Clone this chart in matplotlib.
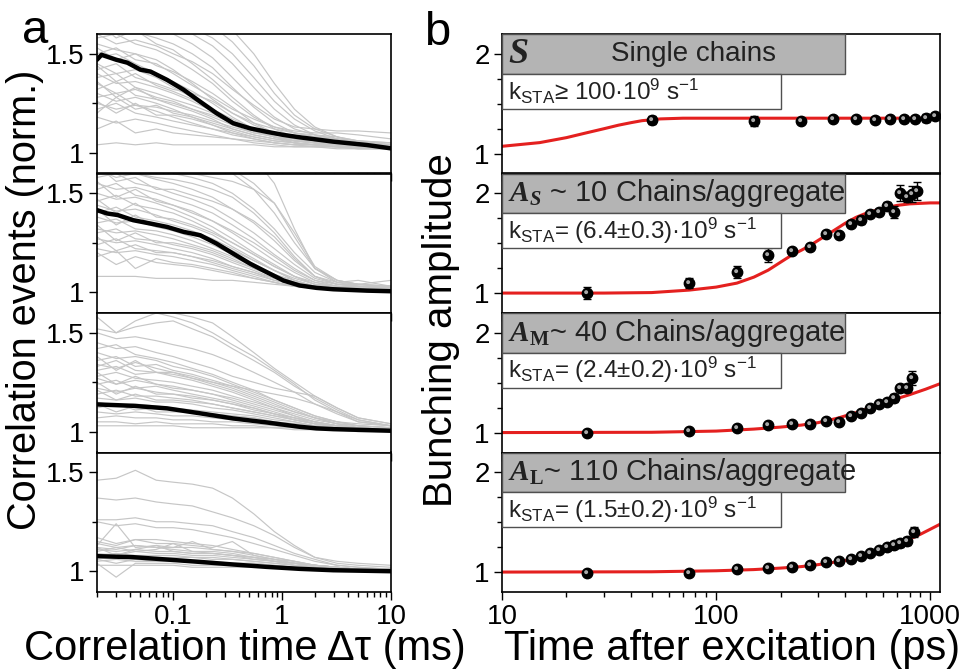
import matplotlib
matplotlib.use('Agg')
import matplotlib.pyplot as plt
from matplotlib.patches import Rectangle
from matplotlib.markers import MarkerStyle
from matplotlib.transforms import Affine2D
from matplotlib.ticker import FixedLocator, NullFormatter, FixedFormatter

plt.rcParams['font.family'] = ['Liberation Sans', 'DejaVu Sans']
plt.rcParams['mathtext.fontset'] = 'custom'
plt.rcParams['mathtext.rm'] = 'Liberation Sans'
plt.rcParams['mathtext.it'] = 'Liberation Sans:italic'
plt.rcParams['mathtext.bf'] = 'Liberation Serif:italic:bold'
plt.rcParams['mathtext.sf'] = 'Liberation Serif:bold'

# ---------------- panel a data ----------------
tau = [0.02, 0.03, 0.045, 0.07, 0.1, 0.15, 0.23, 0.35, 0.55, 0.85, 1.3, 2, 3.2, 5, 10]

traces_1 = [
    [1.70,1.70,1.70,1.70,1.70,1.70,1.68,1.62,1.50,1.35,1.22,1.13,1.08,1.05,1.03],
    [1.75,1.72,1.70,1.68,1.66,1.63,1.58,1.50,1.38,1.26,1.17,1.11,1.07,1.05,1.03],
    [1.65,1.66,1.63,1.62,1.60,1.55,1.48,1.38,1.27,1.18,1.12,1.09,1.07,1.05,1.04],
    [1.62,1.60,1.61,1.58,1.55,1.50,1.43,1.33,1.23,1.15,1.10,1.08,1.06,1.05,1.03],
    [1.58,1.60,1.55,1.52,1.48,1.42,1.35,1.26,1.18,1.13,1.10,1.09,1.08,1.06,1.04],
    [1.55,1.52,1.50,1.47,1.42,1.35,1.27,1.20,1.14,1.10,1.08,1.06,1.05,1.04,1.03],
    [1.50,1.53,1.47,1.45,1.40,1.34,1.28,1.22,1.17,1.13,1.11,1.10,1.10,1.09,1.07],
    [1.45,1.40,1.42,1.38,1.33,1.28,1.22,1.16,1.11,1.08,1.06,1.05,1.04,1.04,1.03],
    [1.42,1.45,1.38,1.35,1.32,1.30,1.26,1.20,1.15,1.12,1.10,1.08,1.07,1.05,1.04],
    [1.40,1.35,1.36,1.33,1.30,1.26,1.21,1.16,1.12,1.09,1.07,1.06,1.05,1.04,1.03],
    [1.38,1.40,1.33,1.30,1.27,1.24,1.20,1.15,1.11,1.08,1.06,1.05,1.04,1.03,1.02],
    [1.35,1.30,1.32,1.28,1.26,1.22,1.18,1.14,1.10,1.08,1.07,1.06,1.06,1.05,1.05],
    [1.32,1.36,1.29,1.27,1.24,1.21,1.17,1.12,1.09,1.07,1.05,1.04,1.04,1.03,1.02],
    [1.30,1.26,1.28,1.25,1.22,1.18,1.14,1.10,1.07,1.05,1.04,1.04,1.03,1.03,1.02],
    [1.28,1.30,1.24,1.23,1.21,1.19,1.16,1.13,1.10,1.09,1.08,1.08,1.07,1.06,1.05],
    [1.25,1.22,1.24,1.21,1.18,1.15,1.12,1.09,1.07,1.05,1.04,1.03,1.03,1.02,1.02],
    [1.22,1.25,1.20,1.18,1.16,1.14,1.12,1.10,1.08,1.06,1.05,1.04,1.04,1.03,1.02],
    [1.18,1.15,1.17,1.15,1.13,1.11,1.09,1.07,1.05,1.04,1.03,1.03,1.02,1.02,1.02],
    [1.12,1.16,1.10,1.12,1.10,1.09,1.08,1.07,1.06,1.05,1.04,1.04,1.03,1.03,1.02],
    [1.04,1.05,1.04,1.05,1.04,1.04,1.04,1.04,1.04,1.03,1.03,1.03,1.03,1.03,1.03],
    [1.60,1.55,1.57,1.54,1.50,1.46,1.40,1.32,1.24,1.17,1.13,1.12,1.11,1.11,1.10],
    [1.48,1.50,1.45,1.40,1.36,1.31,1.25,1.18,1.12,1.08,1.05,1.04,1.03,1.02,1.02],
    [1.66,1.58,1.62,1.55,1.52,1.45,1.37,1.28,1.19,1.12,1.08,1.06,1.05,1.04,1.03],
    [1.53,1.47,1.50,1.44,1.41,1.36,1.30,1.23,1.15,1.10,1.07,1.05,1.04,1.03,1.02],
    [1.44,1.36,1.40,1.34,1.31,1.27,1.22,1.17,1.12,1.08,1.06,1.05,1.04,1.03,1.03],
    [1.36,1.28,1.33,1.27,1.25,1.22,1.19,1.15,1.11,1.08,1.06,1.05,1.05,1.04,1.03],
    [1.26,1.20,1.25,1.19,1.19,1.17,1.14,1.11,1.08,1.06,1.05,1.04,1.03,1.03,1.02],
    [1.70,1.70,1.70,1.68,1.65,1.60,1.54,1.45,1.33,1.22,1.14,1.09,1.06,1.05,1.04],
    [1.20,1.28,1.22,1.24,1.20,1.18,1.15,1.12,1.09,1.07,1.06,1.05,1.04,1.03,1.02],
    [1.70,1.70,1.70,1.70,1.70,1.69,1.64,1.56,1.44,1.30,1.19,1.12,1.08,1.06,1.05],
]
traces_2 = [
    [1.70,1.70,1.70,1.70,1.70,1.70,1.70,1.70,1.68,1.55,1.32,1.12,1.05,1.03,1.02],
    [1.70,1.70,1.70,1.70,1.68,1.66,1.64,1.60,1.52,1.40,1.25,1.12,1.06,1.04,1.03],
    [1.65,1.66,1.64,1.62,1.60,1.58,1.55,1.50,1.42,1.32,1.20,1.10,1.05,1.04,1.03],
    [1.62,1.58,1.60,1.57,1.55,1.52,1.48,1.42,1.35,1.26,1.16,1.08,1.04,1.03,1.02],
    [1.58,1.60,1.55,1.53,1.50,1.47,1.43,1.37,1.30,1.22,1.14,1.07,1.04,1.03,1.02],
    [1.55,1.52,1.53,1.50,1.47,1.44,1.40,1.34,1.27,1.19,1.12,1.06,1.04,1.04,1.06],
    [1.52,1.55,1.49,1.47,1.44,1.41,1.36,1.30,1.23,1.16,1.10,1.05,1.03,1.02,1.02],
    [1.50,1.47,1.48,1.45,1.42,1.38,1.33,1.27,1.20,1.14,1.08,1.04,1.03,1.02,1.01],
    [1.46,1.49,1.44,1.42,1.40,1.36,1.31,1.25,1.19,1.13,1.08,1.05,1.03,1.03,1.02],
    [1.44,1.41,1.42,1.39,1.36,1.33,1.29,1.23,1.17,1.11,1.06,1.03,1.02,1.02,1.01],
    [1.40,1.43,1.38,1.36,1.34,1.31,1.27,1.22,1.16,1.11,1.07,1.04,1.03,1.02,1.01],
    [1.38,1.35,1.36,1.33,1.31,1.28,1.24,1.19,1.14,1.09,1.05,1.03,1.02,1.02,1.01],
    [1.35,1.37,1.32,1.31,1.29,1.26,1.22,1.18,1.13,1.09,1.06,1.03,1.02,1.01,1.01],
    [1.32,1.30,1.31,1.29,1.27,1.24,1.21,1.17,1.12,1.08,1.05,1.03,1.02,1.02,1.01],
    [1.30,1.32,1.27,1.26,1.24,1.22,1.19,1.15,1.11,1.07,1.04,1.02,1.02,1.01,1.01],
    [1.27,1.25,1.26,1.24,1.22,1.20,1.17,1.13,1.10,1.06,1.04,1.02,1.01,1.01,1.01],
    [1.24,1.27,1.22,1.21,1.20,1.18,1.15,1.12,1.09,1.06,1.04,1.02,1.02,1.01,1.01],
    [1.22,1.20,1.21,1.19,1.18,1.16,1.14,1.11,1.08,1.05,1.03,1.02,1.01,1.01,1.01],
    [1.18,1.21,1.12,1.17,1.15,1.14,1.12,1.10,1.07,1.05,1.03,1.02,1.01,1.01,1.01],
    [1.08,1.08,1.08,1.07,1.07,1.07,1.06,1.06,1.05,1.04,1.03,1.02,1.01,1.01,1.01],
    [1.60,1.62,1.60,1.58,1.57,1.55,1.52,1.48,1.40,1.30,1.18,1.08,1.05,1.06,1.03],
    [1.68,1.66,1.65,1.63,1.62,1.60,1.58,1.56,1.52,1.45,1.30,1.13,1.06,1.04,1.02],
    [1.56,1.48,1.52,1.46,1.44,1.40,1.36,1.31,1.25,1.18,1.11,1.06,1.03,1.02,1.02],
    [1.47,1.40,1.45,1.38,1.37,1.34,1.30,1.25,1.19,1.13,1.08,1.04,1.02,1.02,1.01],
    [1.42,1.34,1.39,1.33,1.32,1.29,1.26,1.21,1.16,1.11,1.06,1.03,1.02,1.01,1.01],
    [1.34,1.26,1.30,1.25,1.25,1.23,1.20,1.16,1.12,1.08,1.05,1.03,1.02,1.01,1.01],
    [1.28,1.21,1.24,1.20,1.20,1.18,1.16,1.13,1.10,1.07,1.04,1.02,1.01,1.01,1.01],
    [1.70,1.70,1.70,1.70,1.70,1.70,1.68,1.62,1.55,1.45,1.28,1.12,1.06,1.04,1.03],
    [1.64,1.56,1.58,1.52,1.52,1.49,1.46,1.42,1.36,1.28,1.17,1.08,1.04,1.03,1.03],
    [1.20,1.14,1.18,1.15,1.14,1.13,1.11,1.09,1.07,1.05,1.03,1.02,1.01,1.01,1.01],
]
traces_3 = [
    [1.70,1.68,1.66,1.62,1.60,1.58,1.55,1.48,1.40,1.32,1.25,1.18,1.12,1.07,1.04],
    [1.52,1.50,1.53,1.55,1.56,1.52,1.48,1.42,1.36,1.30,1.23,1.17,1.11,1.06,1.03],
    [1.45,1.42,1.43,1.40,1.38,1.35,1.32,1.28,1.25,1.22,1.20,1.18,1.12,1.07,1.04],
    [1.42,1.44,1.39,1.37,1.35,1.32,1.29,1.25,1.21,1.16,1.12,1.08,1.05,1.03,1.02],
    [1.40,1.37,1.38,1.36,1.33,1.31,1.28,1.24,1.20,1.16,1.12,1.08,1.05,1.04,1.03],
    [1.36,1.38,1.33,1.34,1.31,1.29,1.26,1.23,1.19,1.15,1.11,1.07,1.05,1.03,1.02],
    [1.34,1.32,1.35,1.32,1.30,1.27,1.24,1.21,1.17,1.13,1.10,1.07,1.04,1.03,1.02],
    [1.31,1.33,1.29,1.30,1.28,1.26,1.23,1.20,1.16,1.12,1.08,1.05,1.03,1.02,1.01],
    [1.28,1.30,1.27,1.26,1.25,1.23,1.21,1.18,1.15,1.12,1.09,1.06,1.04,1.02,1.01],
    [1.27,1.24,1.26,1.24,1.22,1.21,1.19,1.16,1.13,1.10,1.07,1.05,1.03,1.02,1.01],
    [1.24,1.26,1.22,1.23,1.21,1.19,1.17,1.15,1.12,1.09,1.07,1.04,1.03,1.02,1.01],
    [1.22,1.20,1.22,1.20,1.19,1.17,1.16,1.14,1.11,1.09,1.06,1.04,1.03,1.02,1.01],
    [1.19,1.21,1.18,1.18,1.17,1.16,1.14,1.12,1.10,1.08,1.06,1.04,1.02,1.02,1.01],
    [1.17,1.16,1.17,1.15,1.15,1.14,1.12,1.11,1.09,1.07,1.05,1.03,1.02,1.01,1.01],
    [1.12,1.14,1.11,1.12,1.11,1.10,1.09,1.08,1.07,1.05,1.04,1.03,1.02,1.01,1.01],
    [1.10,1.09,1.10,1.09,1.08,1.08,1.07,1.06,1.05,1.04,1.03,1.02,1.01,1.01,1.01],
    [1.07,1.08,1.07,1.07,1.06,1.06,1.05,1.05,1.04,1.03,1.02,1.02,1.01,1.01,1.00],
    [1.05,1.05,1.04,1.05,1.04,1.04,1.04,1.03,1.03,1.02,1.02,1.01,1.01,1.01,1.00],
    [1.03,1.03,1.03,1.03,1.03,1.02,1.02,1.02,1.02,1.02,1.01,1.01,1.01,1.00,1.00],
    [1.15,1.13,1.14,1.13,1.12,1.11,1.10,1.09,1.08,1.06,1.05,1.03,1.02,1.01,1.01],
    [1.50,1.47,1.48,1.46,1.44,1.42,1.39,1.35,1.30,1.25,1.20,1.14,1.09,1.05,1.03],
    [1.58,1.50,1.56,1.60,1.58,1.55,1.50,1.44,1.38,1.31,1.24,1.16,1.10,1.05,1.03],
    [1.38,1.31,1.36,1.30,1.30,1.28,1.25,1.22,1.18,1.14,1.10,1.07,1.04,1.03,1.02],
    [1.30,1.24,1.28,1.24,1.23,1.21,1.19,1.17,1.14,1.11,1.08,1.05,1.03,1.02,1.01],
    [1.25,1.19,1.23,1.19,1.19,1.18,1.16,1.14,1.12,1.09,1.07,1.05,1.03,1.02,1.01],
    [1.21,1.16,1.19,1.16,1.16,1.15,1.14,1.12,1.10,1.08,1.06,1.04,1.03,1.02,1.01],
    [1.14,1.10,1.13,1.10,1.10,1.10,1.09,1.08,1.07,1.05,1.04,1.03,1.02,1.01,1.01],
    [1.33,1.36,1.31,1.30,1.29,1.27,1.25,1.23,1.21,1.19,1.17,1.14,1.10,1.06,1.03],
]
traces_4 = [
    [1.46,1.47,1.51,1.46,1.45,1.44,1.42,1.37,1.29,1.20,1.13,1.07,1.05,1.04,1.03],
    [1.37,1.36,1.37,1.35,1.34,1.33,1.30,1.27,1.23,1.18,1.12,1.07,1.04,1.03,1.02],
    [1.26,1.26,1.27,1.25,1.25,1.24,1.23,1.20,1.17,1.13,1.09,1.06,1.03,1.02,1.01],
    [1.25,1.23,1.24,1.22,1.22,1.21,1.19,1.17,1.14,1.11,1.08,1.05,1.03,1.02,1.01],
    [1.15,1.13,1.16,1.14,1.14,1.13,1.12,1.15,1.08,1.06,1.04,1.03,1.02,1.01,1.01],
    [1.13,1.24,1.12,1.13,1.12,1.12,1.11,1.10,1.08,1.06,1.04,1.03,1.02,1.01,1.01],
    [1.12,1.11,1.13,1.12,1.11,1.10,1.10,1.09,1.07,1.05,1.04,1.03,1.02,1.01,1.01],
    [1.10,1.12,1.10,1.11,1.14,1.10,1.09,1.08,1.06,1.05,1.04,1.02,1.01,1.01,1.00],
    [1.09,1.08,1.10,1.09,1.09,1.08,1.08,1.07,1.06,1.05,1.03,1.02,1.01,1.01,1.00],
    [1.07,1.08,1.06,1.07,1.07,1.07,1.06,1.06,1.05,1.04,1.03,1.02,1.01,1.01,1.00],
    [1.05,1.06,1.05,1.05,1.05,1.05,1.05,1.04,1.04,1.03,1.02,1.02,1.01,1.00,1.00],
    [1.04,0.97,1.04,1.04,1.04,1.03,1.03,1.03,1.03,1.02,1.02,1.01,1.01,1.00,1.00],
    [1.03,1.03,1.03,1.03,1.03,1.02,1.02,1.02,1.02,1.02,1.01,1.01,1.01,1.00,1.00],
    [1.11,1.10,1.11,1.10,1.10,1.09,1.09,1.08,1.07,1.06,1.05,1.03,1.02,1.01,1.01],
    [1.14,1.12,1.13,1.12,1.12,1.15,1.11,1.10,1.09,1.07,1.05,1.03,1.02,1.01,1.01],
    [1.08,1.09,1.08,1.08,1.08,1.07,1.07,1.06,1.05,1.04,1.03,1.02,1.01,1.01,1.00],
    [1.12,1.08,1.11,1.13,1.10,1.09,1.09,1.08,1.07,1.05,1.04,1.03,1.02,1.01,1.01],
    [1.06,1.04,1.06,1.05,1.05,1.05,1.04,1.04,1.04,1.03,1.02,1.02,1.01,1.00,1.00],
    [1.17,1.14,1.16,1.16,1.15,1.14,1.13,1.11,1.09,1.07,1.05,1.03,1.02,1.01,1.01],
]

mean_x_1 = [0.02, 0.022, 0.03, 0.038, 0.05, 0.062, 0.088, 0.125, 0.177, 0.25, 0.356, 0.51, 0.72, 1.03, 1.45, 2.95, 6.0, 10]
mean_y_1 = [1.47, 1.495, 1.47, 1.455, 1.42, 1.41, 1.368, 1.318, 1.258, 1.20, 1.149, 1.123, 1.106, 1.09, 1.078, 1.056, 1.039, 1.022]
mean_x_2 = [0.02, 0.0248, 0.031, 0.043, 0.062, 0.088, 0.125, 0.177, 0.25, 0.356, 0.51, 0.72, 1.03, 1.45, 2.07, 2.95, 6.0, 10]
mean_y_2 = [1.415, 1.398, 1.39, 1.364, 1.347, 1.33, 1.305, 1.288, 1.246, 1.195, 1.144, 1.102, 1.059, 1.034, 1.022, 1.015, 1.008, 1.005]
mean_x_3 = [0.02, 0.043, 0.088, 0.177, 0.356, 0.72, 1.45, 2.07, 2.95, 10]
mean_y_3 = [1.138, 1.131, 1.118, 1.093, 1.067, 1.047, 1.025, 1.017, 1.013, 1.005]
mean_x_4 = [0.02, 0.043, 0.088, 0.177, 0.356, 0.72, 1.45, 2.95, 10]
mean_y_4 = [1.076, 1.071, 1.059, 1.047, 1.034, 1.022, 1.012, 1.005, 1.0]

# ---------------- panel b data ----------------
S_x = [50, 150, 250, 350, 450, 550, 650, 750, 850, 950, 1050]
S_y = [1.34, 1.33, 1.33, 1.35, 1.345, 1.34, 1.345, 1.35, 1.35, 1.36, 1.38]
S_err = [0.04, 0.05, 0.02, 0.015, 0.02, 0.015, 0.02, 0.03, 0.03, 0.04, 0.03]
S_fit_x = [10, 15, 20, 25, 30, 35, 40, 45, 55, 70, 1110]
S_fit_y = [1.073, 1.11, 1.16, 1.21, 1.25, 1.285, 1.31, 1.33, 1.348, 1.355, 1.355]

AS_x = [25, 75, 125, 175, 225, 275, 325, 375, 425, 475, 525, 575, 625, 675, 725, 775, 825, 870]
AS_y = [1.0, 1.10, 1.21, 1.385, 1.42, 1.46, 1.59, 1.585, 1.695, 1.73, 1.79, 1.815, 1.87, 1.815, 2.005, 1.965, 1.99, 2.02]
AS_err = [0.06, 0.05, 0.06, 0.07, 0.02, 0.03, 0.02, 0.02, 0.03, 0.04, 0.03, 0.03, 0.04, 0.06, 0.08, 0.05, 0.08, 0.09]
AS_fit_x = [10, 30, 50, 75, 100, 125, 150, 175, 200, 225, 250, 276, 300, 350, 400, 450, 500, 600, 700, 800, 1000, 1110]
AS_fit_y = [1.0, 1.0, 1.005, 1.03, 1.06, 1.10, 1.16, 1.23, 1.31, 1.38, 1.43, 1.48, 1.53, 1.62, 1.70, 1.76, 1.80, 1.85, 1.88, 1.895, 1.905, 1.905]

AM_x = [25, 75, 125, 175, 225, 275, 325, 375, 425, 475, 525, 575, 625, 675, 725, 775, 825]
AM_y = [1.0, 1.015, 1.05, 1.075, 1.09, 1.09, 1.115, 1.11, 1.165, 1.2, 1.25, 1.29, 1.31, 1.345, 1.45, 1.45, 1.55]
AM_err = [0.015, 0.015, 0.015, 0.015, 0.015, 0.015, 0.015, 0.015, 0.015, 0.015, 0.02, 0.02, 0.02, 0.04, 0.03, 0.04, 0.07]
AM_fit_x = [10, 50, 100, 150, 200, 250, 300, 370, 450, 550, 650, 800, 950, 1110]
AM_fit_y = [1.0, 1.003, 1.015, 1.035, 1.055, 1.075, 1.10, 1.145, 1.2, 1.265, 1.32, 1.38, 1.435, 1.49]

AL_x = [25, 75, 125, 175, 225, 275, 325, 375, 425, 475, 525, 575, 625, 675, 725, 775, 835]
AL_y = [0.995, 0.995, 1.035, 1.04, 1.055, 1.07, 1.1, 1.115, 1.135, 1.165, 1.19, 1.22, 1.25, 1.27, 1.29, 1.31, 1.40]
AL_err = [0.01, 0.01, 0.01, 0.01, 0.01, 0.01, 0.015, 0.015, 0.015, 0.015, 0.02, 0.02, 0.03, 0.03, 0.04, 0.04, 0.05]
AL_fit_x = [10, 50, 100, 150, 200, 250, 300, 400, 500, 600, 700, 800, 900, 1000, 1110]
AL_fit_y = [1.0, 1.003, 1.013, 1.025, 1.04, 1.055, 1.075, 1.115, 1.16, 1.215, 1.27, 1.33, 1.38, 1.43, 1.48]

box_titles = [r"$\mathbf{S}$",
              r"$\mathbf{A}_{\mathbf{S}}$ ~ 10 Chains/aggregate",
              r"$\mathbf{A}_{\mathsf{M}}$~ 40 Chains/aggregate",
              r"$\mathbf{A}_{\mathsf{L}}$~ 110 Chains/aggregate"]
k_texts = [r"k$_{\rm STA}$≥ 100·10$^{9}$ s$^{-1}$",
           r"k$_{\rm STA}$= (6.4±0.3)·10$^{9}$ s$^{-1}$",
           r"k$_{\rm STA}$= (2.4±0.2)·10$^{9}$ s$^{-1}$",
           r"k$_{\rm STA}$= (1.5±0.2)·10$^{9}$ s$^{-1}$"]

# ---------------- figure ----------------
W, H = 971, 672
fig = plt.figure(figsize=(W / 100, H / 100), dpi=100)

top_px, bot_px = 34, 592
ph = (bot_px - top_px) / 4 / H

def style_axes(ax):
    for s in ax.spines.values():
        s.set_linewidth(1.2)
    ax.tick_params(which='both', direction='out', top=False, right=False, width=1.0, labelsize=20, pad=3)
    ax.tick_params(which='major', length=6)
    ax.tick_params(which='minor', length=3.5)

grey = '#c6c6c6'
traces_all = [traces_1, traces_2, traces_3, traces_4]
means_all = [(mean_x_1, mean_y_1), (mean_x_2, mean_y_2), (mean_x_3, mean_y_3), (mean_x_4, mean_y_4)]

for i in range(4):
    b = 1 - bot_px / H + (3 - i) * ph
    ax = fig.add_axes([97 / W, b, (391 - 97) / W, ph])
    for tr in traces_all[i]:
        ax.plot(tau, tr, color=grey, lw=0.85, zorder=1)
    mx, my = means_all[i]
    ax.plot(mx, my, color='black', lw=3.2, zorder=3, solid_capstyle='round')
    ax.set_xscale('log')
    ax.set_xlim(0.02, 10)
    ax.set_ylim(0.895, 1.6)
    ax.yaxis.set_major_locator(FixedLocator([1, 1.5]))
    ax.yaxis.set_major_formatter(FixedFormatter(['1', '1.5']))
    ax.yaxis.set_minor_locator(FixedLocator([1.25]))
    ax.xaxis.set_major_locator(FixedLocator([0.1, 1, 10]))
    ax.xaxis.set_minor_locator(FixedLocator([0.02, 0.03, 0.04, 0.05, 0.06, 0.07, 0.08, 0.09,
                                             0.2, 0.3, 0.4, 0.5, 0.6, 0.7, 0.8, 0.9,
                                             2, 3, 4, 5, 6, 7, 8, 9]))
    ax.xaxis.set_minor_formatter(NullFormatter())
    if i == 3:
        ax.xaxis.set_major_formatter(FixedFormatter(['0.1', '1', '10']))
    else:
        ax.xaxis.set_major_formatter(NullFormatter())
    style_axes(ax)

red = '#e4201f'
pts = [(S_x, S_y, S_err, S_fit_x, S_fit_y),
       (AS_x, AS_y, AS_err, AS_fit_x, AS_fit_y),
       (AM_x, AM_y, AM_err, AM_fit_x, AM_fit_y),
       (AL_x, AL_y, AL_err, AL_fit_x, AL_fit_y)]
hl = MarkerStyle('o', transform=Affine2D().scale(0.38).translate(-0.13, 0.13))

for i in range(4):
    b = 1 - bot_px / H + (3 - i) * ph
    ax = fig.add_axes([502 / W, b, (940 - 502) / W, ph])
    px, py, pe, fx, fy = pts[i]
    ax.plot(fx, fy, color=red, lw=2.2, zorder=2)
    ax.errorbar(px, py, yerr=pe, fmt='none', ecolor='black', elinewidth=1.0, capsize=3, capthick=1.0, zorder=3)
    ax.plot(px, py, ls='none', marker='o', ms=7.5, mfc='black', mec='black', zorder=4)
    ax.plot(px, py, ls='none', marker=hl, ms=7.5, mfc='#a8a8a8', mec='none', zorder=5)
    ax.set_xscale('log')
    ax.set_xlim(10, 1110)
    ax.set_ylim(0.8, 2.2)
    ax.yaxis.set_major_locator(FixedLocator([1, 2]))
    ax.yaxis.set_major_formatter(FixedFormatter(['1', '2']))
    ax.yaxis.set_minor_locator(FixedLocator([1.25, 1.5, 1.75]))
    ax.xaxis.set_major_locator(FixedLocator([10, 100, 1000]))
    ax.xaxis.set_minor_locator(FixedLocator([20, 30, 40, 50, 60, 70, 80, 90,
                                             200, 300, 400, 500, 600, 700, 800, 900]))
    ax.xaxis.set_minor_formatter(NullFormatter())
    if i == 3:
        ax.xaxis.set_major_formatter(FixedFormatter(['10', '100', '1000']))
    else:
        ax.xaxis.set_major_formatter(NullFormatter())
    style_axes(ax)
    ax.add_patch(Rectangle((0, 1 - 0.285), 0.783, 0.285, transform=ax.transAxes,
                           facecolor='#b4b4b4', edgecolor='#505050', lw=1.0, zorder=6, clip_on=False))
    ax.add_patch(Rectangle((0, 1 - 0.535), 0.637, 0.25, transform=ax.transAxes,
                           facecolor='white', edgecolor='#505050', lw=1.0, zorder=6, clip_on=False))
    if i == 0:
        ax.text(0.014, 1 - 0.1425, box_titles[i], transform=ax.transAxes, fontsize=26,
                ha='left', va='center', zorder=7, color='#222222')
        ax.text(0.437, 1 - 0.1425, 'Single chains', transform=ax.transAxes, fontsize=20,
                ha='center', va='center', zorder=7, color='#222222')
    else:
        ax.text(0.014, 1 - 0.1425, box_titles[i], transform=ax.transAxes, fontsize=21,
                ha='left', va='center', zorder=7, color='#222222')
    ax.text(0.014, 1 - 0.41, k_texts[i], transform=ax.transAxes, fontsize=17.5,
            ha='left', va='center', zorder=7, color='#222222')

# labels
fig.text(25 / W, 1 - 300 / H, 'Correlation events (norm.)', rotation=90, fontsize=28.5,
         ha='center', va='center')
fig.text(245 / W, 1 - 649 / H, 'Correlation time Δτ (ms)', fontsize=30, ha='center', va='center')
fig.text(441 / W, 1 - 330 / H, 'Bunching amplitude', rotation=90, fontsize=29,
         ha='center', va='center')
fig.text(732 / W, 1 - 649 / H, 'Time after excitation (ps)', fontsize=30, ha='center', va='center')
fig.text(22 / W, 1 - 43 / H, 'a', fontsize=34, ha='left', va='baseline')
fig.text(424 / W, 1 - 45 / H, 'b', fontsize=34, ha='left', va='baseline')

fig.savefig('out.png', dpi=100)
